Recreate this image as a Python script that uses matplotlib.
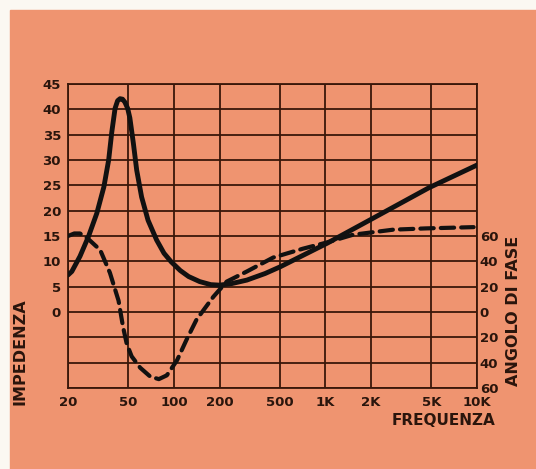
import matplotlib
matplotlib.use("Agg")
import matplotlib.pyplot as plt
from matplotlib.patches import Rectangle

# impedance curve (ohm)
imp_freq = [20, 21.2, 24, 27.3, 31, 34.5, 37.1, 38.9, 40.9, 42.5, 44.1, 45.8,
            47.5, 49.5, 51.2, 54, 56.8, 61.2, 67.5, 76.9, 86, 96, 110, 125,
            148, 175, 200, 240, 303, 400, 501, 1030, 2060, 4800, 10000]
imp_val = [7.3, 8.0, 11.0, 14.9, 19.5, 24.7, 30.0, 35.5, 40.2, 41.7, 42.1,
           42.0, 41.4, 40.2, 38.3, 33.3, 28.0, 22.7, 18.1, 14.2, 11.6, 9.9,
           8.2, 7.0, 6.0, 5.4, 5.3, 5.6, 6.3, 7.6, 8.9, 13.6, 18.5, 24.5, 29]

# phase angle (degrees)
ph_freq = [20, 22, 24, 27, 32.6, 37.8, 43.1, 46.2, 48.8, 52.6, 59.9, 69.8,
           79.5, 89.8, 105, 121, 141, 182, 223, 303, 452, 711, 1030, 1520,
           2800, 4600, 9500]
ph_val = [60, 62, 62, 58, 49, 31, 9, -12, -25, -35, -44, -51, -53, -50, -38,
          -22, -6, 12, 24, 32, 43, 50, 55, 61, 65, 66, 67]

x_ticks = [20, 50, 100, 200, 500, 1000, 2000, 5000, 10000]
x_labels = ["20", "50", "100", "200", "500", "1K", "2K", "5K", "10K"]
left_ticks = [0, 5, 10, 15, 20, 25, 30, 35, 40, 45]
right_ticks = [-60, -40, -20, 0, 20, 40, 60]

bg = "#ef9470"
ink = "#2a150c"
grid = "#3a170a"

fig = plt.figure(figsize=(5.36, 4.69), dpi=100)
fig.patch.set_facecolor("#fbf8f2")
fig.add_artist(Rectangle((10 / 536, 0), 1, 1 - 10 / 469,
                         transform=fig.transFigure, color=bg, zorder=-10))

ax = fig.add_axes([68 / 536, 1 - 388 / 469, 409 / 536, 304 / 469])
ax.set_zorder(1)
ax.set_facecolor(bg)
ax.set_xscale("log")
ax.set_xlim(20, 10000)
ax.set_ylim(-15, 45)
ax.minorticks_off()
ax.set_xticks(x_ticks)
ax.set_xticklabels(x_labels)
ax.set_yticks([-15, -10, -5] + left_ticks)
ax.set_yticklabels(["", "", ""] + [str(v) for v in left_ticks])
ax.grid(True, color=grid, linewidth=1.3)
ax.tick_params(length=0, labelcolor=ink, labelsize=9.5)
ax.tick_params(axis="x", pad=6)
ax.tick_params(axis="y", pad=5)
for lab in ax.get_xticklabels() + ax.get_yticklabels():
    lab.set_fontweight("bold")
for sp in ax.spines.values():
    sp.set_color(grid)
    sp.set_linewidth(1.3)

ax.plot(imp_freq, imp_val, color="#111", linewidth=3.5,
        solid_capstyle="round", solid_joinstyle="round", zorder=3)

ax2 = ax.twinx()
ax2.set_ylim(-60, 180)
ax2.set_yticks(right_ticks)
ax2.set_yticklabels([str(abs(v)) for v in right_ticks])
ax2.tick_params(length=0, pad=2, labelcolor=ink, labelsize=9.5)
for lab in ax2.get_yticklabels():
    lab.set_fontweight("bold")
for sp in ax2.spines.values():
    sp.set_visible(False)
ax2.plot(ph_freq, ph_val, color="#111", linewidth=3.0,
         dashes=(3.2, 1.7), dash_capstyle="round", dash_joinstyle="round",
         zorder=3)

fig.text(20 / 536, 1 - 352 / 469, "IMPEDENZA", rotation=90, ha="center",
         va="center", fontsize=11.5, fontweight="bold", color=ink)
fig.text(514 / 536, 1 - 311 / 469, "ANGOLO DI FASE", rotation=90,
         ha="center", va="center", fontsize=11.5, fontweight="bold", color=ink)
fig.text(495 / 536, 1 - 420 / 469, "FREQUENZA", ha="right", va="center",
         fontsize=11, fontweight="bold", color=ink)

fig.savefig("out.png", dpi=100, facecolor=fig.get_facecolor())
